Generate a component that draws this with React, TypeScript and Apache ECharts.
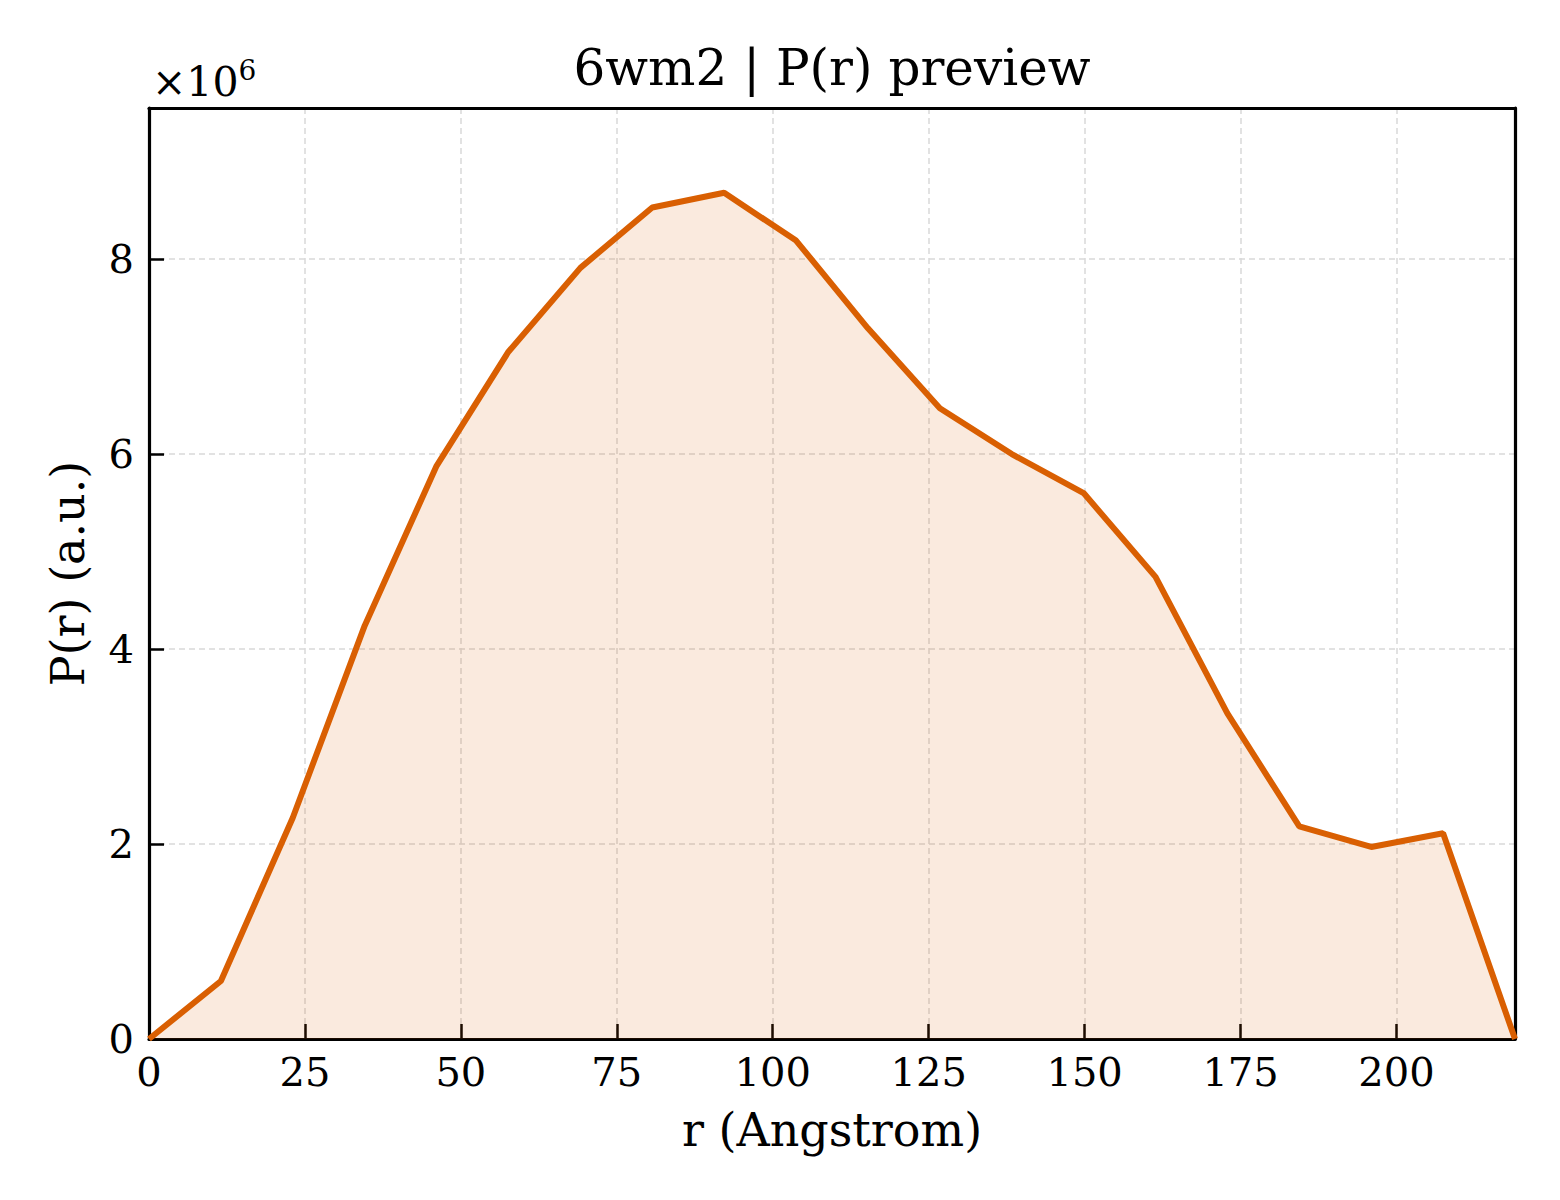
import { useEffect, useRef } from "react";
import * as echarts from "echarts";

const rValues = [
  0, 11.53, 23.05, 34.58, 46.11, 57.63, 69.16, 80.68, 92.21, 103.74, 115.26,
  126.79, 138.32, 149.84, 161.37, 172.89, 184.42, 195.95, 207.47, 219.0,
];
const prValues = [
  0, 0.595e6, 2.27e6, 4.24e6, 5.88e6, 7.05e6, 7.91e6, 8.53e6, 8.68e6, 8.19e6,
  7.29e6, 6.47e6, 6.0e6, 5.6e6, 4.74e6, 3.34e6, 2.18e6, 1.97e6, 2.11e6, 0,
];
const xTicks = [0, 25, 50, 75, 100, 125, 150, 175, 200];
const yTicks = [0, 2e6, 4e6, 6e6, 8e6];

const FONT = "DejaVu Serif";
const LINE = "#d95f02";
const X_MAX = 219;
const Y_MAX = 9.55e6;

const App = () => {
  const chartRef = useRef<HTMLDivElement | null>(null);

  useEffect(() => {
    document.body.style.margin = "0";
    if (!chartRef.current) return;
    const chart = echarts.init(chartRef.current, null, { renderer: "svg" });

    const axisLine = { show: true, onZero: false, lineStyle: { color: "#000", width: 3.2 } };
    const tick = { show: true, inside: true, length: 15, lineStyle: { color: "#000", width: 2.5 } };
    const grid = { show: true, lineStyle: { color: "#d9d9d9", width: 1.5, type: [6, 4] } };
    const nameStyle = { fontFamily: FONT, fontSize: 46, color: "#000" };
    // top / right frame edges
    const frame = {
      axisLine,
      axisTick: { show: false },
      axisLabel: { show: false },
      splitLine: { show: false },
    };

    chart.setOption({
      animation: false,
      backgroundColor: "#fff",
      title: {
        text: "6wm2 | P(r) preview",
        left: 827,
        top: 38,
        textAlign: "center",
        textStyle: { fontFamily: FONT, fontSize: 50, fontWeight: "normal", color: "#000" },
      },
      grid: { left: 149, right: 45, top: 108, bottom: 161 },
      xAxis: [
        {
          type: "value",
          min: 0,
          max: X_MAX,
          interval: 25,
          name: "r (Angstrom)",
          nameLocation: "middle",
          nameGap: 68,
          nameTextStyle: nameStyle,
          axisLine,
          axisTick: tick,
          splitLine: grid,
          axisLabel: {
            fontFamily: FONT,
            fontSize: 40,
            color: "#000",
            margin: 13,
            showMaxLabel: false,
            formatter: (v: number) => (xTicks.includes(v) ? String(v) : ""),
          },
        },
        { type: "value", position: "top", min: 0, max: X_MAX, ...frame },
      ],
      yAxis: [
        {
          type: "value",
          min: 0,
          max: Y_MAX,
          interval: 2e6,
          name: "P(r) (a.u.)",
          nameLocation: "middle",
          nameGap: 58,
          nameTextStyle: nameStyle,
          axisLine,
          axisTick: tick,
          splitLine: grid,
          axisLabel: {
            fontFamily: FONT,
            fontSize: 40,
            color: "#000",
            margin: 15,
            showMaxLabel: false,
            formatter: (v: number) => (yTicks.includes(v) ? String(v / 1e6) : ""),
          },
        },
        { type: "value", position: "right", min: 0, max: Y_MAX, ...frame },
      ],
      graphic: [
        {
          type: "text",
          left: 152,
          top: 56,
          style: {
            text: "{a|×10}{b|6}",
            rich: {
              a: { fontFamily: FONT, fontSize: 41, fill: "#000", verticalAlign: "bottom" },
              b: { fontFamily: FONT, fontSize: 28, fill: "#000", padding: [0, 0, 18, 0] },
            },
          },
        },
      ],
      series: [
        {
          type: "line",
          data: rValues.map((r, i) => [r, prValues[i]]),
          showSymbol: false,
          lineStyle: { color: LINE, width: 6 },
          areaStyle: { color: LINE, opacity: 0.13 },
          clip: true,
        },
      ],
    });

    return () => chart.dispose();
  }, []);

  return <div ref={chartRef} style={{ width: 1560, height: 1200 }} />;
};

export default App;
